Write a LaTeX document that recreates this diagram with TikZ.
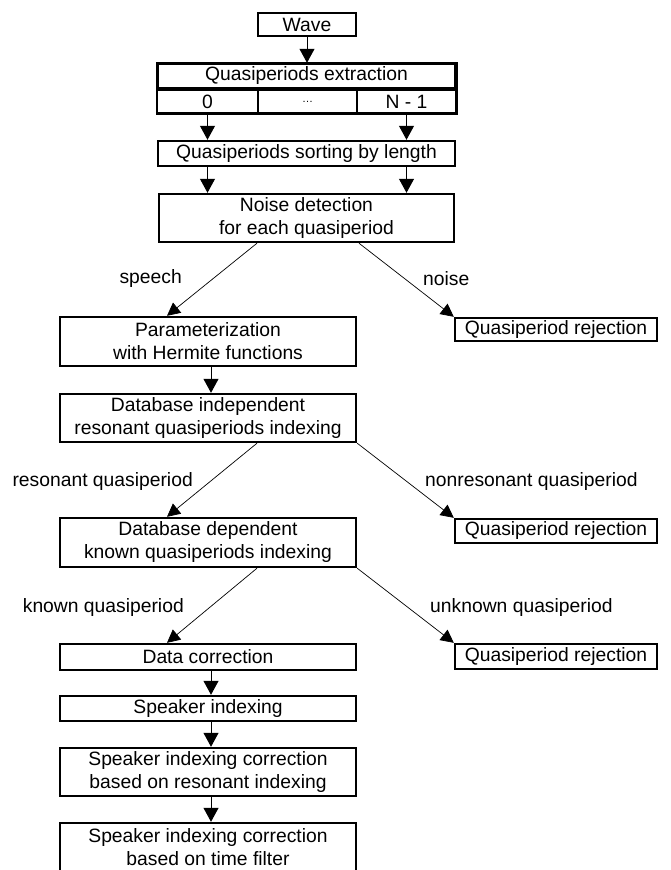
\documentclass[tikz,border=0pt]{standalone}
\usepackage{fontspec}
\setmainfont{Liberation Sans}
\usetikzlibrary{arrows.meta}
\begin{document}
\begin{tikzpicture}[x=1pt,y=-1pt,
  txt/.style={font=\fontsize{19.3}{23}\selectfont},
  box/.style={txt, draw, line width=2.4pt, inner sep=0pt, align=center},
  cell/.style={txt, draw, line width=2pt, inner sep=0pt, minimum height=23pt},
  lbl/.style={txt, inner sep=0pt},
  arr/.style={-{Triangle[width=15pt,length=14pt]}, line width=1pt},
  diag/.style={-{Triangle[width=13pt,length=13pt]}, line width=0.7pt}]
\useasboundingbox (0,0) rectangle (670,870);
\clip (0,0) rectangle (670,870);

% top column
\node[box, minimum width=98pt, minimum height=23pt] (wave) at (307,24.5) {Wave};
\node[box, minimum width=297pt, minimum height=24pt] (extr) at (306.5,76) {Quasiperiods extraction};
\node[cell, minimum width=101pt] (c0) at (207.5,101.5) {0};
\node[cell, minimum width=99pt] (cd) at (307.5,101.5) {\fontsize{11}{13}\selectfont\raisebox{-2pt}{\dots}};
\node[cell, minimum width=99pt] (cn) at (406.5,101.5) {N - 1};
\draw[line width=2.4pt] (extr.north west) rectangle (cn.south east |- c0.south);
\node[box, minimum width=297pt, minimum height=25pt] (sort) at (306.5,153.5) {Quasiperiods sorting by length};
\node[box, minimum width=295pt, minimum height=48pt] (noise) at (306.5,218) {Noise detection\\for each quasiperiod};

% left column
\node[box, minimum width=296pt, minimum height=49pt] (param) at (208,341.5) {Parameterization\\with Hermite functions};
\node[box, minimum width=296pt, minimum height=48pt] (dbi) at (208,418) {Database independent\\resonant quasiperiods indexing};
\node[box, minimum width=296pt, minimum height=49pt] (dbd) at (208,542.5) {Database dependent\\known quasiperiods indexing};
\node[box, minimum width=296pt, minimum height=26pt] (dc) at (208,657) {Data correction};
\node[box, minimum width=296pt, minimum height=25pt] (spk) at (208,708.5) {Speaker indexing};
\node[box, minimum width=296pt, minimum height=48pt] (sicr) at (208,772) {Speaker indexing correction\\based on resonant indexing};
\node[box, minimum width=296pt, minimum height=48pt] (sict) at (208,847) {Speaker indexing correction\\based on time filter};

% right column
\node[box, minimum width=202pt, minimum height=23pt] (rej1) at (556,329.5) {Quasiperiod rejection};
\node[box, minimum width=202pt, minimum height=24pt] (rej2) at (556,531) {Quasiperiod rejection};
\node[box, minimum width=202pt, minimum height=25pt] (rej3) at (556,656.5) {Quasiperiod rejection};

% labels
\node[lbl, anchor=east] (lspeech) at (182,279) {speech};
\node[lbl, anchor=west] (lnoise) at (423,279) {noise};
\node[lbl, anchor=east] (lres) at (193,482) {resonant quasiperiod};
\node[lbl, anchor=west] (lnonres) at (425,482) {nonresonant quasiperiod};
\node[lbl, anchor=east] (lknown) at (184,608) {known quasiperiod};
\node[lbl, anchor=west] (lunknown) at (430,608) {unknown quasiperiod};

% vertical arrows
\draw[arr] (wave.south) -- (extr.north -| wave.south);
\draw[arr] (c0.south) -- (sort.north -| c0.south);
\draw[arr] (cn.south) -- (sort.north -| cn.south);
\draw[arr] (sort.south -| c0.south) -- (noise.north -| c0.south);
\draw[arr] (sort.south -| cn.south) -- (noise.north -| cn.south);
\draw[arr] ([xshift=3pt]param.south) -- ([xshift=3pt]dbi.north);
\draw[arr] ([xshift=3pt]dc.south) -- ([xshift=3pt]spk.north);
\draw[arr] ([xshift=3pt]spk.south) -- ([xshift=3pt]sicr.north);
\draw[arr] ([xshift=3pt]sicr.south) -- ([xshift=3pt]sict.north);

% diagonal arrows
\draw[diag] ([xshift=-49.5pt]noise.south) -- ([xshift=-41pt]param.north);
\draw[diag] ([xshift=52.5pt]noise.south) -- (rej1.north west);
\draw[diag] ([xshift=49pt]dbi.south) -- ([xshift=-41pt]dbd.north);
\draw[diag] (dbi.south east) -- (rej2.north west);
\draw[diag] ([xshift=49pt]dbd.south) -- ([xshift=-41pt]dc.north);
\draw[diag] (dbd.south east) -- (rej3.north west);
\end{tikzpicture}
\end{document}
